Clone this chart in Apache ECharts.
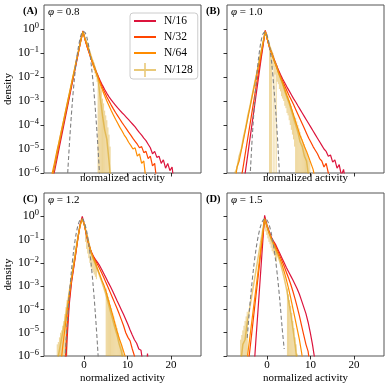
<!DOCTYPE html>
<html>
<head>
<meta charset="utf-8">
<script src="https://cdn.jsdelivr.net/npm/echarts@6/dist/echarts.min.js"></script>
<style>
  html, body { margin: 0; padding: 0; background: #fff; }
  #chart { width: 390px; height: 390px; }
</style>
</head>
<body>
<div id="chart"></div>
<script>
// log10(density), one value every 0.5 of normalized activity, starting at the panel's x0
// (null = nothing drawn there)
const x0A = -7.75, x0B = -7.4, x0C = -7.4, x0D = -7.55;

const A16 = [null, -6.3, -5.9, -5.45, -5.0, -4.55, -4.1, -3.65, -3.2, -2.75, -2.3, -1.85, -1.4, -0.95, -0.5, -0.08,
  -0.45, -0.75, -1.02, -1.28, -1.52, -1.75, -1.97, -2.17, -2.35, -2.52, -2.68, -2.83, -2.95, -3.07, -3.18, -3.29,
  -3.39, -3.49, -3.58, -3.68, -3.78, -3.88, -3.98, -4.08, -4.2, -4.32, -4.42, -4.55, -4.65, -4.8, -4.95, -5.2,
  -5.1, -5.35, -5.3, -5.6, -5.45, -5.8, -5.6, -5.9, -5.75, -6.5];
const A32 = [null, -6.1, -5.7, -5.3, -4.85, -4.4, -3.95, -3.52, -3.1, -2.66, -2.22, -1.8, -1.36, -0.93, -0.5, -0.1,
  -0.45, -0.75, -1.02, -1.3, -1.55, -1.78, -2.0, -2.22, -2.45, -2.64, -2.83, -3.0, -3.17, -3.33, -3.48, -3.62,
  -3.76, -3.9, -4.03, -4.16, -4.3, -4.42, -4.56, -4.68, -4.8, -4.95, -4.9, -5.15, -5.1, -5.4, -5.3, -5.7, -5.6, -6.4];
const A64 = [-6.3, -5.95, -5.55, -5.1, -4.7, -4.28, -3.85, -3.42, -3.0, -2.58, -2.15, -1.73, -1.3, -0.88, -0.47, -0.1,
  -0.42, -0.72, -1.0, -1.28, -1.55, -1.8, -2.05, -2.3, -2.55, -2.78, -3.0, -3.2, -3.4, -3.58, -3.76, -3.93,
  -4.1, -4.25, -4.42, -4.55, -4.72, -4.85, -5.0, -4.95, -5.3, -5.2, -5.6, -5.5, -6.3];
const A128 = [null, -6.2, -5.7, -5.2, -4.75, -4.3, -3.9, -3.45, -3.02, -2.6, -2.17, -1.75, -1.32, -0.9, -0.48, -0.12,
  -0.4, -0.62, -0.9, -1.2, -1.45, -1.75, -2.1, -2.9, -3.6, -4.2, -4.6, -5.5, -6.5];
const AG = [null, null, null, null, null, null, null, null, -6.0, -4.49, -3.21, -2.15, -1.31, -0.71, -0.29, -0.11,
  -0.15, -0.42, -0.9, -1.63, -2.55, -3.7, -5.07, -6.66];

const B16 = [null, null, null, null, -6.5, -5.85, -5.2, -4.55, -3.9, -3.25, -2.6, -1.95, -1.3, -0.68, -0.06,
  -0.45, -0.78, -1.0, -1.25, -1.48, -1.7, -1.9, -2.08, -2.25, -2.42, -2.58, -2.74, -2.9, -3.04, -3.2, -3.35,
  -3.5, -3.65, -3.8, -3.95, -4.1, -4.25, -4.4, -4.55, -4.7, -4.85, -5.0, -5.1, -5.3, -5.25, -5.55, -5.45,
  -5.8, -5.65, -6.1, -5.85, -6.4];
const B32 = [null, null, null, -6.2, -5.65, -5.08, -4.52, -3.96, -3.4, -2.84, -2.28, -1.72, -1.16, -0.62, -0.08,
  -0.45, -0.78, -1.02, -1.28, -1.52, -1.75, -1.97, -2.18, -2.38, -2.58, -2.78, -2.96, -3.15, -3.35, -3.55, -3.75,
  -3.95, -4.15, -4.35, -4.55, -4.72, -4.9, -5.05, -5.2, -5.4, -5.5, -5.75, -5.6, -6.0, -6.5];
const B64 = [-6.5, -5.75, -5.5, -5.05, -4.6, -4.15, -3.7, -3.25, -2.8, -2.35, -1.9, -1.45, -1.0, -0.55, -0.1,
  -0.45, -0.78, -1.03, -1.3, -1.55, -1.8, -2.03, -2.27, -2.52, -2.78, -3.02, -3.3, -3.58, -3.88, -4.15, -4.45,
  -4.65, -4.9, -5.1, -5.35, -5.6, -5.85, -6.3];
const B128 = [-6.0, -5.8, -5.3, -5.0, -4.5, -4.1, -3.6, -3.2, -2.75, -2.3, -1.88, -1.42, -0.98, -0.55, -0.12,
  -0.4, -0.7, -0.95, -1.3, -1.5, -1.8, -2.05, -2.3, -2.6, -2.85, -3.1, -3.4, -3.7, -4.0, -4.3, -4.7,
  -4.9, -5.3, -5.5, -6.2];
const BG = [null, null, null, null, null, null, null, -6.18, -4.53, -3.14, -2.01, -1.15, -0.54, -0.2, -0.13,
  -0.31, -0.75, -1.46, -2.5, -3.66, -5.15, -6.9];

const C16 = [null, null, null, null, null, null, -7, -5.3, -3.8, -2.88, -2.25, -1.6, -0.93, -0.35, 0.0,
  -0.38, -0.85, -1.22, -1.5, -1.7, -1.85, -1.98, -2.12, -2.3, -2.48, -2.66, -2.85, -3.03, -3.22, -3.42, -3.63,
  -3.82, -4.02, -4.22, -4.43, -4.65, -4.88, -5.1, -5.3, -5.45, -5.7, -5.75, -6.4, -7, -5.9, -7];
const C32 = [null, null, null, null, null, null, -6.5, -4.8, -3.6, -2.8, -2.2, -1.58, -0.95, -0.4, -0.08,
  -0.4, -0.8, -1.2, -1.5, -1.72, -1.9, -2.07, -2.25, -2.45, -2.65, -2.87, -3.08, -3.3, -3.52, -3.74, -3.96,
  -4.2, -4.45, -4.7, -5.0, -5.2, -5.35, -5.7, -6.0, -6.6];
const C64 = [null, null, null, null, -6.5, -5.6, -4.85, -4.1, -3.35, -2.7, -2.1, -1.5, -0.9, -0.4, -0.1,
  -0.4, -0.8, -1.2, -1.52, -1.78, -2.0, -2.25, -2.5, -2.75, -2.97, -3.25, -3.6, -3.92, -4.25, -4.6, -4.95,
  -5.25, -5.5, -5.8, -6.1, -6.6];
const C128 = [null, null, -6.6, -6.0, -5.5, -5.0, -4.5, -3.9, -3.25, -2.65, -2.05, -1.45, -0.88, -0.38, -0.12,
  -0.35, -0.75, -1.15, -1.55, -1.82, -2.05, -2.3, -2.55, -2.82, -3.1, -3.4, -3.75, -4.1, -4.45, -4.8, -5.1,
  -5.5, -5.8, -6.3];
const CG = [null, null, null, null, null, null, -6.16, -4.69, -3.42, -2.36, -1.5, -0.85, -0.4, -0.15, -0.11,
  -0.27, -0.64, -1.21, -1.99, -2.97, -4.16, -5.55, -7.14];

const D16 = [null, null, null, null, null, null, null, null, null, -6.7, -5.3, -3.98, -2.64, -1.3, 0.04,
  -0.35, -0.62, -0.88, -1.05, -1.2, -1.4, -1.6, -1.8, -2.0, -2.2, -2.38, -2.56, -2.74, -2.93, -3.12, -3.35,
  -3.62, -3.9, -4.18, -4.55, -5.0, -5.5, -6.1, -6.8];
const D32 = [null, null, null, null, null, null, -6.6, -5.92, -5.1, -4.25, -3.42, -2.6, -1.76, -0.93, -0.1,
  -0.4, -0.68, -0.92, -1.1, -1.28, -1.48, -1.7, -1.92, -2.15, -2.4, -2.65, -2.92, -3.22, -3.55, -3.9, -4.28,
  -4.7, -5.1, -5.5, -5.8, -6.5];
const D64 = [null, null, null, null, null, null, -6.1, -5.35, -4.6, -3.85, -3.1, -2.35, -1.6, -0.85, -0.1,
  -0.4, -0.7, -0.95, -1.15, -1.35, -1.58, -1.82, -2.08, -2.38, -2.72, -3.1, -3.5, -3.95, -4.4, -4.85, -5.3,
  -5.85, -6.5];
const D128 = [null, null, null, -6.3, -5.5, -5.3, -4.6, -4.02, -3.46, -2.9, -2.34, -1.78, -1.22, -0.66, -0.12,
  -0.38, -0.7, -0.98, -1.2, -1.42, -1.68, -1.95, -2.28, -2.65, -3.1, -3.6, -4.15, -4.8, -5.5, -6.3];
const DG = [null, null, null, null, null, null, -5.22, -4.05, -3.03, -2.16, -1.44, -0.88, -0.47, -0.21, -0.1,
  -0.15, -0.35, -0.7, -1.2, -1.85, -2.66, -3.62, -4.73, -5.7];

// N/128 error bars: x, upper and lower end (log10 density, -8 = below the axis)
const ebxA = [0.5, 0.75, 1.0, 1.25, 1.5, 1.75, 2.0, 2.25, 2.5, 2.75, 3.0, 3.25, 3.5, 3.75, 4.0, 4.25, 4.5, 4.75, 5.0, 5.25, 5.5, 5.75, 6.0];
const ebhiA = [-0.45, -0.55, -0.7, -0.85, -1.0, -1.15, -1.3, -1.4, -1.55, -1.7, -1.85, -1.9, -2.1, -2.4, -2.55, -2.9, -3.1, -3.4, -3.6, -3.8, -4.1, -4.4, -4.9];
const ebloA = [-0.65, -0.8, -0.95, -1.1, -1.25, -1.4, -1.55, -1.7, -1.85, -2.0, -2.2, -8, -8, -8, -8, -8, -8, -8, -8, -8, -8, -8, -8];

const ebxB = [0.6, 0.85, 1.1, 1.35, 1.6, 1.85, 2.1, 2.35, 2.6, 2.85, 3.1, 3.35, 3.6, 3.85, 4.1, 4.35, 4.6, 4.85, 5.1,
  5.35, 5.6, 5.85, 6.1, 6.35, 6.6, 6.85, 7.1, 7.35, 7.6, 7.85, 8.1, 8.35, 8.6, 8.85, 9.1, 9.35, 9.6, 9.85];
const ebhiB = [-0.75, -0.9, -1.05, -1.0, -1.15, -1.3, -1.4, -1.5, -1.65, -1.8, -1.9, -2.0, -2.15, -2.3, -2.4, -2.55,
  -2.7, -2.8, -2.95, -3.1, -3.2, -3.35, -3.5, -3.65, -3.7, -3.85, -4.0, -4.15, -4.3, -4.45, -4.6, -4.7, -4.8,
  -4.95, -5.1, -5.2, -5.35, -5.5];
const ebloB = [-8, -8, -8, -1.6, -8, -1.9, -8, -2.2, -2.3, -2.5, -2.6, -2.8, -2.9, -3.0, -3.2, -3.3, -3.5, -3.6,
  -3.8, -4.0, -4.2, -4.4, -4.6, -4.9, -8, -8, -8, -8, -8, -8, -8, -8, -8, -8, -8, -8, -8, -8];

const ebxC = [-6.15, -5.9, -5.65, -5.4, -5.15, -4.9, -4.65, -4.4, -4.15, -3.9,
  0.35, 0.6, 0.85, 1.1, 1.35, 1.6, 1.85, 2.1, 2.35, 2.6, 2.85,
  5.1, 5.35, 5.6, 5.85, 6.1, 6.35, 6.6, 6.85, 7.1, 7.35, 7.6, 7.85, 8.1, 8.35, 8.6, 8.85, 9.1, 9.35];
const ebhiC = [-5.5, -5.4, -5.2, -5.0, -4.9, -4.7, -4.5, -4.2, -3.9, -3.6,
  -0.45, -0.65, -0.85, -1.05, -1.25, -1.45, -1.6, -1.7, -1.8, -1.95, -2.05,
  -3.1, -3.3, -3.45, -3.6, -3.8, -3.95, -4.15, -4.3, -4.5, -4.65, -4.8, -5.0, -5.2, -5.35, -5.5, -5.7, -5.9, -6.0];
const ebloC = [-8, -8, -8, -8, -8, -8, -8, -8, -8, -8,
  -1.1, -1.4, -1.6, -1.8, -2.0, -2.2, -2.3, -2.4, -2.5, -2.6, -2.7,
  -8, -8, -8, -8, -8, -8, -8, -8, -8, -8, -8, -8, -8, -8, -8, -8, -8, -8];

const ebxD = [-6.05, -5.8, -5.55, -5.3, -5.05, -4.8, -4.55,
  -0.3, -0.05, 0.2, 0.45, 0.7, 0.95, 1.2, 1.45, 1.7, 1.95, 2.2,
  4.7, 4.95, 5.2, 5.45, 5.7, 5.95, 6.2, 6.45, 6.7, 6.95];
const ebhiD = [-5.3, -5.1, -4.9, -4.7, -4.5, -4.3, -4.1,
  -0.2, -0.3, -0.45, -0.6, -0.75, -0.88, -1.0, -1.1, -1.2, -1.3, -1.45,
  -3.1, -3.35, -3.6, -3.85, -4.15, -4.5, -4.8, -5.2, -5.5, -5.9];
const ebloD = [-8, -8, -8, -8, -8, -8, -8,
  -0.65, -0.8, -0.95, -1.1, -1.2, -1.35, -1.5, -1.6, -1.7, -1.8, -1.95,
  -8, -8, -8, -8, -8, -8, -8, -8, -8, -8];

const panelLabels = ['(A)', '(B)', '(C)', '(D)'];
const phiValues = ['0.8', '1.0', '1.2', '1.5'];
const names = ['N/16', 'N/32', 'N/64', 'N/128'];
const xTicks = [0, 10, 20];
const yTicks = [1e-6, 1e-5, 1e-4, 1e-3, 1e-2, 1e-1, 1];

const panels = [
  {x0: x0A, lines: [A16, A32, A64, A128], gauss: AG, ebx: ebxA, ebhi: ebhiA, eblo: ebloA},
  {x0: x0B, lines: [B16, B32, B64, B128], gauss: BG, ebx: ebxB, ebhi: ebhiB, eblo: ebloB},
  {x0: x0C, lines: [C16, C32, C64, C128], gauss: CG, ebx: ebxC, ebhi: ebhiC, eblo: ebloC},
  {x0: x0D, lines: [D16, D32, D64, D128], gauss: DG, ebx: ebxD, ebhi: ebhiD, eblo: ebloD}
];

const colors = ['#dc143c', '#ff4500', '#ff8c00', 'rgba(218,165,32,0.6)'];
const serif = 'Liberation Serif';
const gridPos = [
  {left: 44, top: 5, width: 157, height: 168},
  {left: 227, top: 5, width: 157, height: 168},
  {left: 44, top: 193, width: 157, height: 163},
  {left: 227, top: 193, width: 157, height: 163}
];

const toPts = (x0, arr) => arr.map((v, i) => v == null ? null : [x0 + 0.5 * i, Math.pow(10, v)]).filter(p => p);

const grids = [], xAxes = [], yAxes = [], series = [], graphics = [];
panels.forEach((p, k) => {
    grids.push(Object.assign({show: true, borderColor: '#555', borderWidth: 1, backgroundColor: 'transparent'}, gridPos[k]));
    xAxes.push({
        type: 'value', gridIndex: k, min: -9.2, max: 26.9,
        name: 'normalized activity', nameLocation: 'middle', nameGap: k < 2 ? 0 : 17,
        nameTextStyle: {fontFamily: serif, fontSize: 11, color: '#000'},
        axisLine: {show: false, onZero: false}, splitLine: {show: false},
        axisTick: {show: true, customValues: xTicks, length: 3.5, lineStyle: {color: '#000', width: 0.8}},
        axisLabel: {show: k >= 2, customValues: xTicks, margin: 4, fontFamily: serif, fontSize: 11, color: '#000'}
    });
    yAxes.push({
        type: 'log', logBase: 10, gridIndex: k, min: 1e-6, max: 10, position: 'left',
        name: k % 2 === 0 ? 'density' : '', nameLocation: 'middle', nameGap: 27,
        nameTextStyle: {fontFamily: serif, fontSize: 11, color: '#000'},
        axisLine: {show: false, onZero: false}, splitLine: {show: false},
        axisTick: {show: true, customValues: yTicks, length: 3.5, lineStyle: {color: '#000', width: 0.8}},
        axisLabel: {
            show: k % 2 === 0, customValues: yTicks, margin: 5,
            formatter: v => {
                const e = Math.round(Math.log10(v));
                return '{b|10}{s|' + (e < 0 ? '\u2212' + (-e) : e) + '}';
            },
            rich: {
                b: {fontFamily: serif, fontSize: 12, color: '#000'},
                s: {fontFamily: serif, fontSize: 8.5, color: '#000', padding: [0, 0, 7, 0]}
            }
        }
    });
    p.lines.forEach((arr, j) => {
        series.push({
            type: 'line', name: names[j], xAxisIndex: k, yAxisIndex: k, symbol: 'none', silent: true,
            color: colors[j], lineStyle: {color: colors[j], width: j === 3 ? 1.5 : 1.2},
            data: toPts(p.x0, arr)
        });
        if (j === 3) {
            series.push({
                type: 'custom', name: names[3], xAxisIndex: k, yAxisIndex: k, clip: true, silent: true,
                data: p.ebx.map((x, i) => [x, Math.pow(10, p.eblo[i]), Math.pow(10, p.ebhi[i])]),
                encode: {x: 0, y: [1, 2]},
                renderItem: (params, api) => {
                    const a = api.coord([api.value(0), api.value(1)]);
                    const b = api.coord([api.value(0), api.value(2)]);
                    return {type: 'line', shape: {x1: a[0], y1: a[1], x2: b[0], y2: b[1]},
                        style: {stroke: colors[3], lineWidth: 0.8}};
                }
            });
        }
    });
    series.push({
        type: 'line', name: 'gaussian', xAxisIndex: k, yAxisIndex: k, symbol: 'none', silent: true, smooth: 0.3,
        lineStyle: {color: '#808080', width: 1.1, type: [4, 2.5]},
        data: toPts(p.x0, p.gauss)
    });

    const g = gridPos[k];
    graphics.push({
        type: 'text', left: g.left - 21, top: g.top + 1,
        style: {text: panelLabels[k], font: 'bold 10.5px "Liberation Serif"', fill: '#000'}
    });
    graphics.push({
        type: 'text', left: g.left + 4, top: g.top + 2,
        style: {
            text: '{i|\u03c6} = ' + phiValues[k],
            font: '11px "Liberation Serif"', fill: '#000',
            rich: {i: {fontStyle: 'italic', fontFamily: serif, fontSize: 11}}
        }
    });
});

const chart = echarts.init(document.getElementById('chart'));
chart.setOption({
    animation: false,
    backgroundColor: '#fff',
    grid: grids, xAxis: xAxes, yAxis: yAxes, series: series,
    legend: {
        data: ['N/16', 'N/32', 'N/64',
            {name: 'N/128', icon: 'path://M0,6L22,6L22,8L0,8Z M10.2,0L11.8,0L11.8,14L10.2,14Z', itemStyle: {opacity: 1}}],
        orient: 'vertical', left: 130, top: 13, itemWidth: 22, itemHeight: 14, itemGap: 4,
        itemStyle: {opacity: 0},
        padding: [2, 5, 2, 3], backgroundColor: '#fff', borderColor: '#ccc', borderWidth: 1, borderRadius: 3,
        textStyle: {fontFamily: serif, fontSize: 11.5, color: '#000', padding: [0, 0, 0, 3]}, selectedMode: false
    },
    graphic: graphics
});
</script>
</body>
</html>
